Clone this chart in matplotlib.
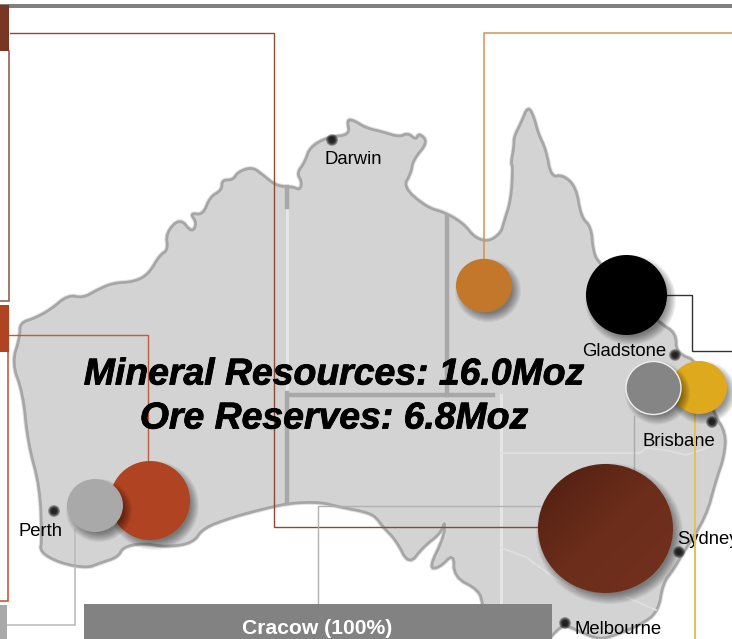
import numpy as np
import matplotlib
matplotlib.use('Agg')
import matplotlib.pyplot as plt
import matplotlib.patheffects as pe
from matplotlib.patches import Ellipse, Polygon, Rectangle
from matplotlib.colors import LinearSegmentedColormap

plt.rcParams['font.family'] = ['Liberation Sans', 'DejaVu Sans']

# everything in pixels, y going down
COAST = [(20, 323), (35, 318), (50, 310), (68, 295), (83, 298), (97, 290), (113, 283), (133, 282), (148, 275),
         (160, 255), (168, 250), (166, 233), (180, 218), (192, 233), (197, 223), (190, 213), (203, 215), (210, 197),
         (222, 190), (222, 180), (233, 180), (238, 172), (252, 167), (263, 175), (275, 185), (287, 187), (293, 187),
         (300, 190), (302, 182), (297, 173), (305, 162), (310, 147), (328, 137), (350, 135), (347, 120), (353, 120),
         (366, 128), (383, 132), (399, 137), (408, 133), (416, 140), (419, 133), (428, 142), (413, 160), (411, 173),
         (403, 187), (426, 207), (446, 213), (464, 224), (474, 237), (488, 242), (501, 233), (504, 222), (511, 200),
         (513, 167), (511, 163), (514, 147), (514, 137), (521, 123), (528, 106), (534, 117), (538, 133), (546, 150),
         (551, 177), (563, 175), (576, 187), (581, 217), (591, 227), (593, 250), (598, 263), (659, 323), (676, 333),
         (676, 353), (699, 362), (713, 413), (726, 433), (724, 457), (716, 480), (706, 517), (683, 553), (673, 570),
         (663, 583), (658, 612), (640, 625), (610, 637), (597, 639), (570, 627), (563, 625), (552, 635), (545, 645),
         (490, 645), (483, 605), (479, 590), (454, 577), (454, 553), (439, 568), (429, 568), (444, 537), (445, 520),
         (441, 533), (423, 547), (409, 565), (396, 540), (383, 527), (376, 517), (366, 512), (340, 507), (320, 502),
         (290, 503), (267, 508), (233, 517), (203, 528), (193, 543), (167, 547), (143, 543), (123, 547), (118, 557),
         (100, 563), (87, 568), (60, 563), (40, 552), (42, 540), (40, 487), (28, 443), (23, 393), (12, 363), (20, 337)]

DARK_BORDERS = [[(287, 187), (287, 207)], [(287, 393), (287, 503)], [(288, 395), (493, 395)], [(447, 216), (447, 395)]]
LIGHT_BORDERS = [[(287, 207), (287, 393)], [(501, 395), (501, 612)]]
THIN_BORDERS = [[(501, 453), (640, 453), (646, 448), (665, 450), (686, 455), (710, 447)],
                [(501, 548), (526, 557), (553, 577), (575, 590)], [(626, 597), (656, 610)]]

CITIES = ['Darwin', 'Perth', 'Gladstone', 'Brisbane', 'Sydney', 'Melbourne']
CITY_DOTS = [(332, 140), (54, 511), (675, 355), (712, 422), (679, 552), (565, 623)]
CITY_LABELS = [(325, 159), (19, 531), (582, 351), (642, 441), (677, 539), (575, 629)]

# bubbles in drawing order: centre, x radius, y radius, colour
BUBBLE_NAMES = ['orange', 'black', 'red', 'lightgrey', 'gold', 'grey']
BUBBLE_CENTRES = [(484, 285.5), (626.5, 295), (150, 500.5), (95, 505.5), (699, 387.5), (653.5, 388)]
BUBBLE_RX = [28, 40.5, 40, 28, 28, 27.5]
BUBBLE_RY = [26.7, 40, 39.5, 26.5, 26.5, 26.5]
BUBBLE_COLOURS = ['#c3772b', '#000000', '#b04321', '#a9a9a9', '#dfa91e', '#858585']
BUBBLE_EDGES = ['none', 'none', 'none', 'none', 'none', '#f0f0f0']

BROWN_BUBBLE = (605.5, 528.5, 67.5, 64.5)

# leader lines: points, colour, width
LEADERS = [([(10, 33), (274, 33), (274, 527), (538, 527)], '#8a4a38', 1.0),
           ([(9, 51), (9, 301), (0, 301)], '#96604f', 1.2),
           ([(9, 335), (148, 335), (148, 461)], '#bc5c3c', 1.0),
           ([(8, 352), (8, 601), (0, 601)], '#c05f40', 1.2),
           ([(732, 33), (484, 33), (484, 259)], '#d3934f', 1.1),
           ([(667, 295), (692, 295), (692, 351), (732, 351)], '#333333', 1.0),
           ([(695, 414), (695, 639)], '#e6c05e', 1.5),
           ([(634, 416), (634, 470)], '#aaaaaa', 1.0),
           ([(75, 530), (75, 625), (7, 625)], '#b8b8b8', 1.1),
           ([(318, 604), (318, 506), (540, 506)], '#b0b0b0', 1.0)]

# coloured blocks: x, y, width, height, colour
BLOCKS = [(0, 4, 732, 4, '#808080'), (0, 5, 9, 46, '#7a3624'), (0, 305, 9, 47, '#b04321'),
          (0, 605, 7, 34, '#a9a9a9'), (84, 604, 468, 35, '#828282')]

TITLE_LINES = ['Mineral Resources: 16.0Moz', 'Ore Reserves: 6.8Moz']
TITLE_Y = [375, 419]
BAR_LABEL = 'Cracow (100%)'


# round off the corners of the traced outline
def smooth_closed(points, rounds=2):
    pts = np.array(points, dtype=float)
    for _ in range(rounds):
        nxt = np.roll(pts, -1, axis=0)
        pts = np.column_stack([0.75 * pts + 0.25 * nxt, 0.25 * pts + 0.75 * nxt]).reshape(-1, 2)
    return pts


def soft_ellipse(ax, cx, cy, rx, ry, spread, alpha, z, steps=8):
    for i in range(steps):
        grow = spread * (1 - i / steps)
        ax.add_patch(Ellipse((cx, cy), 2 * (rx + grow), 2 * (ry + grow), fc='black', ec='none', alpha=alpha, zorder=z))


fig = plt.figure(figsize=(7.32, 6.39), dpi=100)
ax = fig.add_axes([0, 0, 1, 1])

# map
outline = smooth_closed(COAST)
ax.add_patch(Polygon(outline, closed=True, fc='#d3d3d3', ec='#a6a6a6', lw=3.4, alpha=0.35, zorder=1))
ax.add_patch(Polygon(outline, closed=True, fc='#d3d3d3', ec='#a6a6a6', lw=2.0, joinstyle='round', zorder=1.1))
for seg in LIGHT_BORDERS:
    xs, ys = zip(*seg)
    ax.plot(xs, ys, color='#e6e6e6', lw=2.2, zorder=1.2)
for seg in THIN_BORDERS:
    xs, ys = zip(*seg)
    ax.plot(xs, ys, color='#e0e0e0', lw=1.2, zorder=1.2)
for seg in DARK_BORDERS:
    xs, ys = zip(*seg)
    ax.plot(xs, ys, color='#a8a8a8', lw=3.2, zorder=1.3)

for x, y, w, h, c in BLOCKS:
    ax.add_patch(Rectangle((x, y), w, h, fc=c, ec='none', zorder=3))

for pts, c, w in LEADERS:
    xs, ys = zip(*pts)
    ax.plot(xs, ys, color=c, lw=w, solid_joinstyle='miter', zorder=2)

# cities
for (x, y), (lx, ly), name in zip(CITY_DOTS, CITY_LABELS, CITIES):
    soft_ellipse(ax, x, y, 2.0, 2.0, 4.0, 0.25, 1.5, steps=6)
    ax.text(lx, ly, name, fontsize=13.3, color='black', va='center', ha='left', zorder=1.6)

# bubbles
for i, name in enumerate(BUBBLE_NAMES):
    cx, cy = BUBBLE_CENTRES[i]
    rx, ry = BUBBLE_RX[i], BUBBLE_RY[i]
    z = 4 + i * 0.1
    soft_ellipse(ax, cx + 4, cy + 5, rx - 5, ry - 5, 10, 0.05, z, steps=10)
    ax.add_patch(Ellipse((cx, cy), 2 * rx, 2 * ry, fc=BUBBLE_COLOURS[i], ec=BUBBLE_EDGES[i], lw=1.0, zorder=z + 0.05))

# big brown one has a gradient
cx, cy, rx, ry = BROWN_BUBBLE
soft_ellipse(ax, cx + 4, cy + 5, rx - 5, ry - 5, 11, 0.05, 5, steps=10)
cmap = LinearSegmentedColormap.from_list('brown', ['#4f1f11', '#6c2d1b', '#73311e'])
grad = np.add.outer(np.linspace(0, 1, 100), np.linspace(0, 1, 100))
im = ax.imshow(grad, cmap=cmap, extent=(cx - rx, cx + rx, cy + ry, cy - ry), aspect='auto', zorder=5.1)
clip = Ellipse((cx, cy), 2 * rx, 2 * ry, transform=ax.transData)
im.set_clip_path(clip)

# text
for line, y in zip(TITLE_LINES, TITLE_Y):
    ax.text(334, y, line, fontsize=26.9, fontweight='bold', fontstyle='italic', color='black',
            ha='center', va='center', zorder=7,
            path_effects=[pe.withStroke(linewidth=0.6, foreground='black')])
ax.text(317.5, 629, BAR_LABEL, fontsize=15.2, fontweight='bold', color='white', ha='center', va='center', zorder=7)

ax.set_xlim(0, 732)
ax.set_ylim(639, 0)
ax.axis('off')
fig.savefig('out.png', dpi=100, facecolor='white')
